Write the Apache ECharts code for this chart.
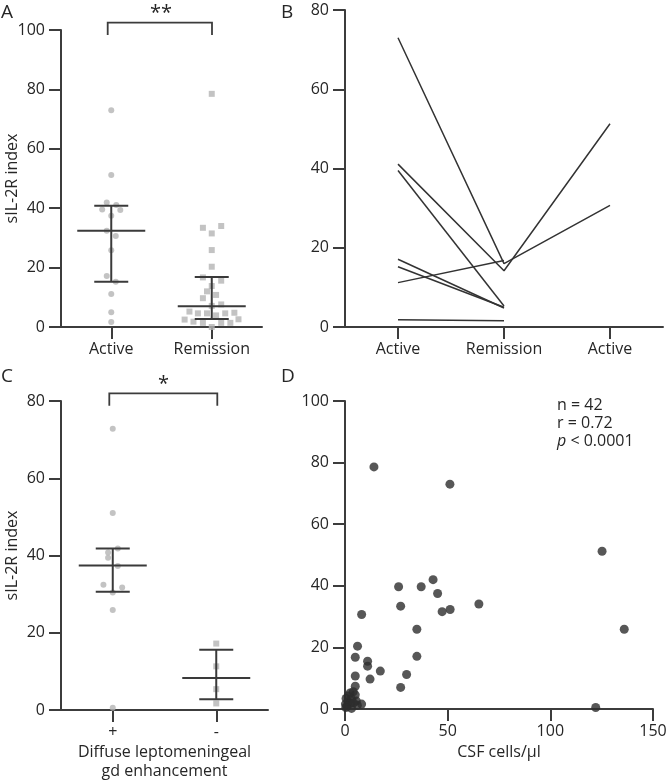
<!DOCTYPE html>
<html><head><meta charset="utf-8">
<script src="https://cdn.jsdelivr.net/npm/echarts@6/dist/echarts.min.js"></script>
<style>html,body{margin:0;padding:0;background:#fff}#c{width:667px;height:783px}</style>
</head><body><div id="c"></div><script>
// ---------- Panel A ----------
const catsA = ['Active', 'Remission'];
// [category position incl. jitter, sIL-2R index]
const aActive = [[0,73.0],[0,51.2],[-0.045,41.9],[0.05,41.1],[-0.09,39.6],[0.09,39.4],[0,37.5],[-0.045,32.4],[0.045,30.6],[0,25.8],[-0.045,17.2],[0.045,15.2],[0,11.1],[0,5.0],[0,1.7]];
const aRemission = [[1,78.5],[0.912,33.4],[1.094,34.0],[1,31.5],[1,25.9],[1,20.3],[0.912,16.7],[1.094,15.6],[1,13.8],[0.953,12.0],[1.043,10.8],[0.912,9.7],[1,7.1],[1.094,7.6],[0.778,5.2],[0.862,4.6],[0.953,4.6],[1.134,4.6],[1.225,4.8],[1.043,3.9],[0.73,2.5],[0.818,1.8],[0.912,1.4],[1.094,1.4],[1.185,1.4],[1.266,2.6],[1,0]];
const aMedian = [32.4, 7.0];
const aQ1 = [15.2, 2.7];
const aQ3 = [40.8, 16.8];

// ---------- Panel B ----------
const catsB = ['Active', 'Remission', 'Active'];
const bPatients = [
  [73.0, 16.0, 30.7],
  [41.1, 14.2, 51.3],
  [39.5, 5.3],
  [17.1, 4.8],
  [15.2, 5.0],
  [11.2, 16.8],
  [1.8, 1.6]
];

// ---------- Panel C ----------
const catsC = ['+', '-'];
const cPlus = [[0,72.8],[0,51.0],[0.049,41.8],[-0.045,40.8],[-0.045,39.4],[0.049,37.3],[-0.09,32.4],[0.091,31.7],[0,30.4],[0,25.9],[0,0.6]];
const cMinus = [[1,17.2],[1,11.3],[1,5.4],[1,1.7]];
const cMedian = [37.4, 8.3];
const cQ1 = [30.6, 2.8];
const cQ3 = [41.8, 15.6];

// ---------- Panel D ----------
const dPoints = [[14.1,78.6],[51.1,73.0],[125.2,51.2],[42.9,42.0],[26.1,39.7],[37.1,39.7],[45.1,37.5],[27.1,33.4],[65.2,34.1],[47.3,31.6],[51.2,32.3],[8.1,30.7],[35.0,25.9],[136.0,25.9],[6.1,20.4],[5.0,16.8],[35.0,17.1],[11.0,15.5],[11.0,13.9],[17.2,12.3],[30.0,11.2],[5.0,10.7],[12.2,9.7],[5.0,7.4],[27.1,7.0],[8.1,1.6],[122.1,0.5],
  [2.5,5.2],[4.0,5.6],[5.0,4.6],[1.5,4.2],[0.5,3.4],[3.2,3.2],[5.5,2.6],[1.5,2.3],[0.2,1.6],[2.6,1.8],[6.0,1.2],[1.0,0.9],[3.2,0.2],[4.2,2.0],[0.4,0.5]];
const statN = 'n = 42', statR = 'r = 0.72', statP = '< 0.0001';

const AX = '#3c3c3c', TX = '#262626', GRAY = '#b4b4b4', DARK = '#2d2d2d';
const FONT = 'Open Sans';

function lineAxis() { return { show: true, onZero: false, lineStyle: { color: AX, width: 2 } }; }
function tick() { return { show: true, length: 12, lineStyle: { color: AX, width: 2 } }; }
function lbl(m) { return { color: TX, fontFamily: FONT, fontSize: 16, margin: m }; }
function nameStyle() { return { color: TX, fontFamily: FONT, fontSize: 16, lineHeight: 19 }; }

function catAxis(gi, data, name, gap) {
  return { type: 'category', gridIndex: gi, data: data, boundaryGap: true,
    axisLine: lineAxis(), axisTick: Object.assign(tick(), { alignWithLabel: true }),
    axisLabel: lbl(14), splitLine: { show: false },
    name: name || '', nameLocation: 'middle', nameGap: gap || 0, nameMoveOverlap: false, nameTextStyle: nameStyle() };
}
function hiddenX(gi) { return { type: 'value', gridIndex: gi, min: -0.5, max: 1.5, show: false, splitLine: { show: false } }; }
function valY(gi, max, name) {
  return { type: 'value', gridIndex: gi, min: 0, max: max, interval: 20,
    axisLine: lineAxis(), axisTick: tick(), axisLabel: lbl(16), splitLine: { show: false },
    name: name || '', nameLocation: 'middle', nameGap: 39, nameMoveOverlap: false, nameTextStyle: nameStyle() };
}

function errRender(params, api) {
  const x = api.value(0), m = api.value(1), lo = api.value(2), hi = api.value(3);
  const c = api.coord([x, m]), l = api.coord([x, lo]), h = api.coord([x, hi]);
  const st = { stroke: '#3a3a3a', lineWidth: 2 };
  return { type: 'group', children: [
    { type: 'line', shape: { x1: c[0] - 34, y1: c[1], x2: c[0] + 34, y2: c[1] }, style: st },
    { type: 'line', shape: { x1: l[0], y1: l[1], x2: h[0], y2: h[1] }, style: st },
    { type: 'line', shape: { x1: l[0] - 17, y1: l[1], x2: l[0] + 17, y2: l[1] }, style: st },
    { type: 'line', shape: { x1: h[0] - 17, y1: h[1], x2: h[0] + 17, y2: h[1] }, style: st }
  ] };
}
function errData(med, q1, q3) { return med.map((m, i) => [i, m, q1[i], q3[i]]); }

const series = [];
series.push({ type: 'scatter', xAxisIndex: 1, yAxisIndex: 0, data: aActive, symbol: 'circle', symbolSize: 6, itemStyle: { color: GRAY }, silent: true });
series.push({ type: 'scatter', xAxisIndex: 1, yAxisIndex: 0, data: aRemission, symbol: 'rect', symbolSize: 6, itemStyle: { color: GRAY }, silent: true });
series.push({ type: 'custom', xAxisIndex: 1, yAxisIndex: 0, data: errData(aMedian, aQ1, aQ3), renderItem: errRender, z: 5, silent: true });
bPatients.forEach(p => series.push({ type: 'line', xAxisIndex: 2, yAxisIndex: 1, data: p, symbol: 'none', lineStyle: { color: '#333', width: 1.5 }, silent: true }));
series.push({ type: 'scatter', xAxisIndex: 4, yAxisIndex: 2, data: cPlus, symbol: 'circle', symbolSize: 6, itemStyle: { color: GRAY }, silent: true });
series.push({ type: 'scatter', xAxisIndex: 4, yAxisIndex: 2, data: cMinus, symbol: 'rect', symbolSize: 6, itemStyle: { color: GRAY }, silent: true });
series.push({ type: 'custom', xAxisIndex: 4, yAxisIndex: 2, data: errData(cMedian, cQ1, cQ3), renderItem: errRender, z: 5, silent: true });
series.push({ type: 'scatter', xAxisIndex: 5, yAxisIndex: 3, data: dPoints, symbol: 'circle', symbolSize: 9, itemStyle: { color: DARK }, silent: true });

function letter(t, x, y) { return { type: 'text', left: x, top: y, style: { text: t, fill: TX, font: '19px "Open Sans"' } }; }
const bracketStyle = { stroke: AX, lineWidth: 1.8, fill: null };

const option = {
  animation: false,
  backgroundColor: '#fff',
  grid: [
    { left: 61, top: 30, width: 201, height: 297, outerBoundsMode: 'none' },
    { left: 345, top: 10, width: 318, height: 317, outerBoundsMode: 'none' },
    { left: 61, top: 401, width: 207, height: 309, outerBoundsMode: 'none' },
    { left: 345, top: 401, width: 308, height: 308, outerBoundsMode: 'none' }
  ],
  xAxis: [
    catAxis(0, catsA),
    hiddenX(0),
    catAxis(1, catsB),
    catAxis(2, catsC, 'Diffuse leptomeningeal\ngd enhancement', 33),
    hiddenX(2),
    { type: 'value', gridIndex: 3, min: 0, max: 150, interval: 50,
      axisLine: lineAxis(), axisTick: tick(), axisLabel: lbl(14), splitLine: { show: false },
      name: 'CSF cells/μl', nameLocation: 'middle', nameGap: 34, nameMoveOverlap: false, nameTextStyle: nameStyle() }
  ],
  yAxis: [
    valY(0, 100, 'sIL-2R index'),
    valY(1, 80),
    valY(2, 80, 'sIL-2R index'),
    valY(3, 100)
  ],
  series: series,
  graphic: [
    letter('A', 1, 3), letter('B', 281, 3), letter('C', 1, 367), letter('D', 281, 367),
    { type: 'polyline', shape: { points: [[107.7, 35], [107.7, 22.7], [212, 22.7], [212, 35]] }, style: bracketStyle },
    { type: 'text', left: 150, top: 3, style: { text: '**', fill: TX, font: '20px "Open Sans"' } },
    { type: 'polyline', shape: { points: [[109.3, 405.7], [109.3, 393.3], [217.3, 393.3], [217.3, 405.7]] }, style: bracketStyle },
    { type: 'text', left: 158, top: 374, style: { text: '*', fill: TX, font: '20px "Open Sans"' } },
    { type: 'text', left: 557, top: 397, style: { text: statN, fill: TX, font: '16px "Open Sans"' } },
    { type: 'text', left: 557, top: 415, style: { text: statR, fill: TX, font: '16px "Open Sans"' } },
    { type: 'text', left: 557, top: 433, style: { text: '{i|p} ' + statP, fill: TX, font: '16px "Open Sans"', rich: { i: { fontStyle: 'italic', fontFamily: FONT, fontSize: 16, fill: TX } } } }
  ]
};
const chart = echarts.init(document.getElementById('c'), null, { renderer: 'canvas' });
chart.setOption(option);
</script></body></html>
